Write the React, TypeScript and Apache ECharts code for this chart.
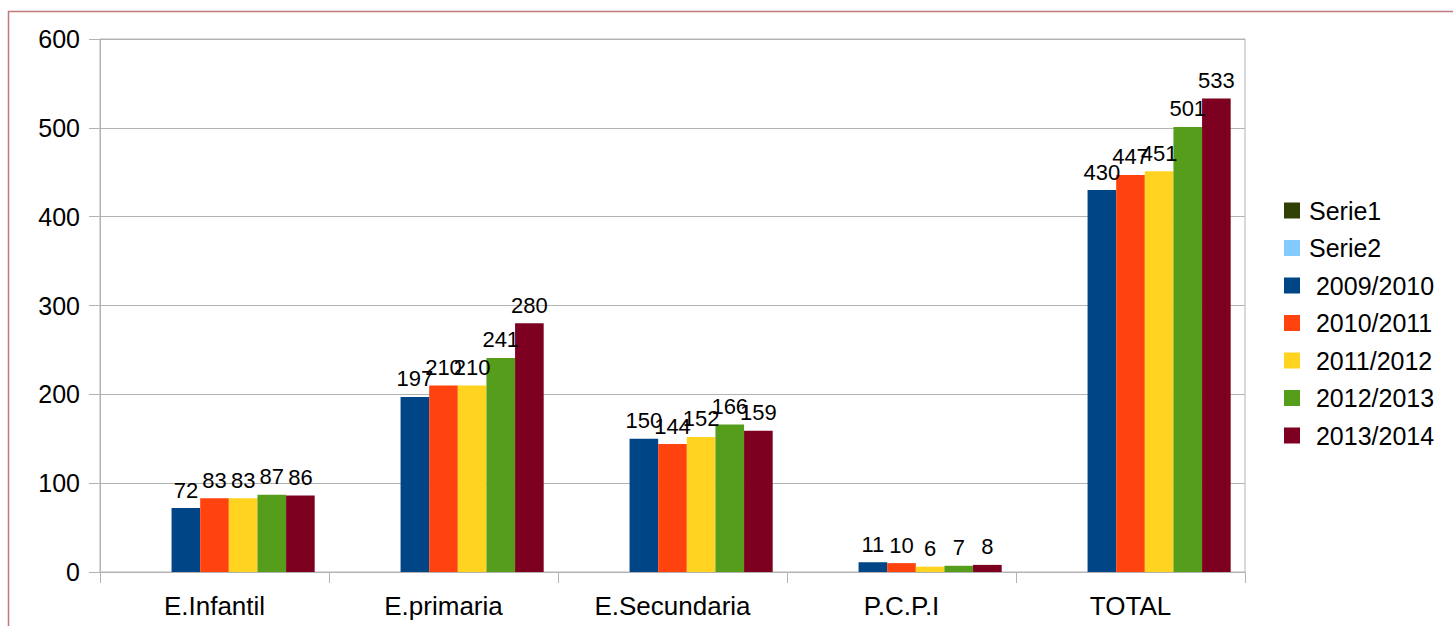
import React, { useEffect, useRef } from "react";
import * as echarts from "echarts";

const categories = ["E.Infantil", "E.primaria", "E.Secundaria", "P.C.P.I", "TOTAL"];
const seriesNames = ["Serie1", "Serie2", " 2009/2010", " 2010/2011", " 2011/2012", " 2012/2013", " 2013/2014"];
const seriesColors = ["#314004", "#83caff", "#004586", "#ff420e", "#ffd320", "#579d1c", "#7e0021"];
const serie1: (number | null)[] = [null, null, null, null, null];
const serie2: (number | null)[] = [null, null, null, null, null];
const y2009: number[] = [72, 197, 150, 11, 430];
const y2010: number[] = [83, 210, 144, 10, 447];
const y2011: number[] = [83, 210, 152, 6, 451];
const y2012: number[] = [87, 241, 166, 7, 501];
const y2013: number[] = [86, 280, 159, 8, 533];
const seriesData = [serie1, serie2, y2009, y2010, y2011, y2012, y2013];

const FONT = "'Liberation Sans', Arial, sans-serif";
const GRAY = "#b3b3b3";

export default function App() {
  const ref = useRef<HTMLDivElement>(null);
  useEffect(() => {
    if (!ref.current) return;
    const chart = echarts.init(ref.current, undefined, { renderer: "svg" });
    chart.setOption({
      animation: false,
      backgroundColor: "#ffffff",
      textStyle: { fontFamily: FONT },
      graphic: [
        {
          type: "rect",
          shape: { x: 8.5, y: 11.5, width: 1500, height: 700 },
          style: { fill: "none", stroke: "#c07878", lineWidth: 1.5 },
          silent: true,
        },
      ],
      grid: {
        left: 100,
        right: 208,
        top: 39,
        bottom: 54,
        show: true,
        borderColor: GRAY,
        borderWidth: 1,
        backgroundColor: "transparent",
      },
      legend: {
        orient: "vertical",
        left: 1284,
        top: 198,
        padding: 0,
        itemWidth: 16,
        itemHeight: 16,
        itemGap: 12.5,
        icon: "rect",
        data: seriesNames,
        textStyle: { fontFamily: FONT, fontSize: 25, color: "#000", padding: [0, 0, 0, 4] },
      },
      xAxis: {
        type: "category",
        data: categories,
        axisLine: { show: true, lineStyle: { color: GRAY } },
        axisTick: { show: true, length: 11, lineStyle: { color: GRAY } },
        axisLabel: { fontFamily: FONT, fontSize: 26, color: "#000", margin: 21 },
        splitLine: { show: false },
      },
      yAxis: {
        type: "value",
        min: 0,
        max: 600,
        interval: 100,
        axisLine: { show: true, lineStyle: { color: GRAY } },
        axisTick: { show: true, length: 11, lineStyle: { color: GRAY } },
        axisLabel: { fontFamily: FONT, fontSize: 25, color: "#000", margin: 20 },
        splitLine: { show: true, lineStyle: { color: GRAY } },
      },
      series: seriesNames.map((name, i) => ({
        name,
        type: "bar",
        data: seriesData[i],
        barGap: "0%",
        barCategoryGap: "12.5%",
        itemStyle: { color: seriesColors[i] },
        label: {
          show: i >= 2,
          position: "top",
          distance: 7,
          fontFamily: FONT,
          fontSize: 22,
          color: "#000",
        },
      })),
    });
    return () => chart.dispose();
  }, []);
  return (
    <div
      ref={ref}
      style={{ position: "fixed", left: 0, top: 0, width: 1453, height: 626 }}
    />
  );
}
